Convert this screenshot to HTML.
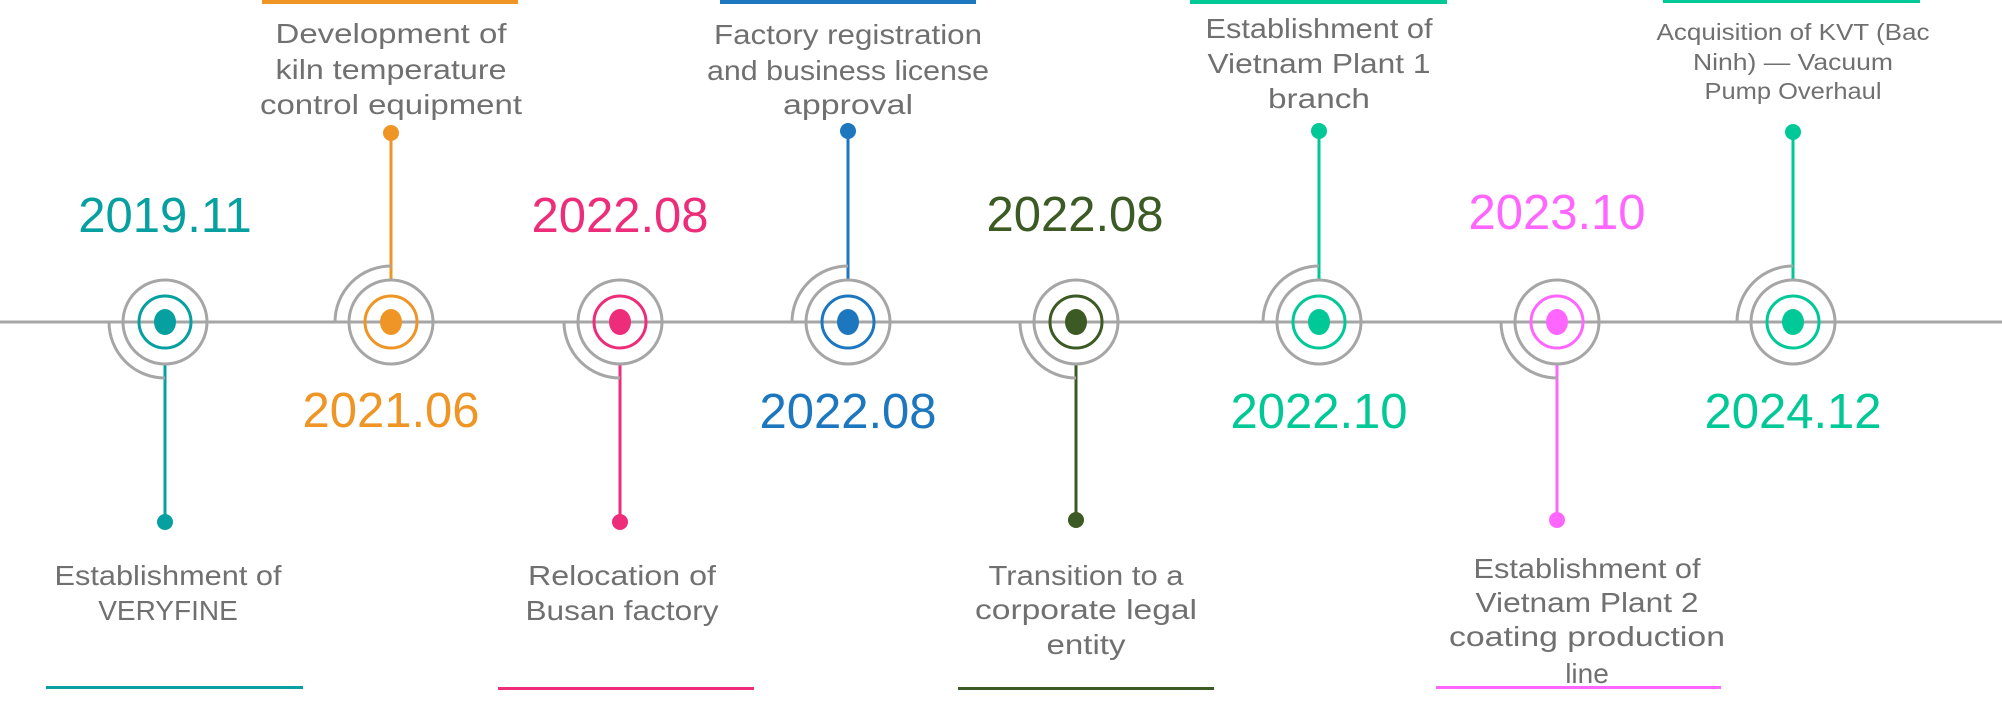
<!DOCTYPE html>
<html><head><meta charset="utf-8"><style>
html,body{margin:0;padding:0;background:#fff;}
svg{display:block;}
text{font-family:"Liberation Sans",sans-serif;}
.l{font-size:28px;fill:#707070;text-anchor:middle;}
.s{font-size:23px;fill:#707070;text-anchor:middle;}
.d{font-size:49px;text-anchor:middle;}
.g{fill:none;stroke:#a6a6a6;stroke-width:3;}
</style></head><body>
<svg width="2002" height="708" viewBox="0 0 2002 708" xmlns="http://www.w3.org/2000/svg">
<line x1="0" y1="322" x2="2002" y2="322" stroke="#a6a6a6" stroke-width="3"/>

<line x1="165" y1="364" x2="165" y2="522" stroke="#05a09f" stroke-width="3"/>
<circle cx="165" cy="522" r="8" fill="#05a09f"/>
<path class="g" d="M109 322 A56 56 0 0 0 165 378"/>
<circle class="g" cx="165" cy="322" r="42" fill="#fff"/>
<circle cx="165" cy="322" r="26" fill="none" stroke="#05a09f" stroke-width="3"/>
<ellipse cx="165" cy="322" rx="11" ry="13" fill="#05a09f"/>
<text class="d" x="165" y="232" fill="#05a09f">2019.11</text>
<text class="l" x="168" y="585" textLength="227" lengthAdjust="spacingAndGlyphs">Establishment of</text>
<text class="l" x="168" y="620">VERYFINE</text>
<rect x="46" y="686" width="257" height="3" fill="#05a09f"/>

<line x1="391" y1="133" x2="391" y2="280" stroke="#ef9526" stroke-width="3"/>
<circle cx="391" cy="133" r="8" fill="#ef9526"/>
<path class="g" d="M335 322 A56 56 0 0 1 391 266"/>
<circle class="g" cx="391" cy="322" r="42" fill="#fff"/>
<circle cx="391" cy="322" r="26" fill="none" stroke="#ef9526" stroke-width="3"/>
<ellipse cx="391" cy="322" rx="11" ry="13" fill="#ef9526"/>
<text class="d" x="391" y="427" fill="#ef9526">2021.06</text>
<text class="l" x="391" y="43" textLength="231" lengthAdjust="spacingAndGlyphs">Development of</text>
<text class="l" x="391" y="79" textLength="231" lengthAdjust="spacingAndGlyphs">kiln temperature</text>
<text class="l" x="391" y="114" textLength="262" lengthAdjust="spacingAndGlyphs">control equipment</text>
<rect x="262" y="0" width="256" height="4" fill="#ef9526"/>

<line x1="620" y1="364" x2="620" y2="522" stroke="#ee2d7a" stroke-width="3"/>
<circle cx="620" cy="522" r="8" fill="#ee2d7a"/>
<path class="g" d="M564 322 A56 56 0 0 0 620 378"/>
<circle class="g" cx="620" cy="322" r="42" fill="#fff"/>
<circle cx="620" cy="322" r="26" fill="none" stroke="#ee2d7a" stroke-width="3"/>
<ellipse cx="620" cy="322" rx="11" ry="13" fill="#ee2d7a"/>
<text class="d" x="620" y="232" fill="#ee2d7a">2022.08</text>
<text class="l" x="622" y="585" textLength="188" lengthAdjust="spacingAndGlyphs">Relocation of</text>
<text class="l" x="622" y="620" textLength="193" lengthAdjust="spacingAndGlyphs">Busan factory</text>
<rect x="498" y="687" width="256" height="3" fill="#ee2d7a"/>

<line x1="848" y1="131" x2="848" y2="280" stroke="#1c77bf" stroke-width="3"/>
<circle cx="848" cy="131" r="8" fill="#1c77bf"/>
<path class="g" d="M792 322 A56 56 0 0 1 848 266"/>
<circle class="g" cx="848" cy="322" r="42" fill="#fff"/>
<circle cx="848" cy="322" r="26" fill="none" stroke="#1c77bf" stroke-width="3"/>
<ellipse cx="848" cy="322" rx="11" ry="13" fill="#1c77bf"/>
<text class="d" x="848" y="428" fill="#1c77bf">2022.08</text>
<text class="l" x="848" y="44" textLength="268" lengthAdjust="spacingAndGlyphs">Factory registration</text>
<text class="l" x="848" y="80" textLength="282" lengthAdjust="spacingAndGlyphs">and business license</text>
<text class="l" x="848" y="114" textLength="130" lengthAdjust="spacingAndGlyphs">approval</text>
<rect x="720" y="0" width="256" height="4" fill="#1c77bf"/>

<line x1="1076" y1="364" x2="1076" y2="520" stroke="#3b5a24" stroke-width="3"/>
<circle cx="1076" cy="520" r="8" fill="#3b5a24"/>
<path class="g" d="M1020 322 A56 56 0 0 0 1076 378"/>
<circle class="g" cx="1076" cy="322" r="42" fill="#fff"/>
<circle cx="1076" cy="322" r="26" fill="none" stroke="#3b5a24" stroke-width="3"/>
<ellipse cx="1076" cy="322" rx="11" ry="13" fill="#3b5a24"/>
<text class="d" x="1075" y="231" fill="#3b5a24">2022.08</text>
<text class="l" x="1086" y="585" textLength="195" lengthAdjust="spacingAndGlyphs">Transition to a</text>
<text class="l" x="1086" y="619" textLength="222" lengthAdjust="spacingAndGlyphs">corporate legal</text>
<text class="l" x="1086" y="654" textLength="79" lengthAdjust="spacingAndGlyphs">entity</text>
<rect x="958" y="687" width="256" height="3" fill="#3b5a24"/>

<line x1="1319" y1="131" x2="1319" y2="280" stroke="#00c896" stroke-width="3"/>
<circle cx="1319" cy="131" r="8" fill="#00c896"/>
<path class="g" d="M1263 322 A56 56 0 0 1 1319 266"/>
<circle class="g" cx="1319" cy="322" r="42" fill="#fff"/>
<circle cx="1319" cy="322" r="26" fill="none" stroke="#00c896" stroke-width="3"/>
<ellipse cx="1319" cy="322" rx="11" ry="13" fill="#00c896"/>
<text class="d" x="1319" y="428" fill="#00c896">2022.10</text>
<text class="l" x="1319" y="38" textLength="227" lengthAdjust="spacingAndGlyphs">Establishment of</text>
<text class="l" x="1319" y="73" textLength="223" lengthAdjust="spacingAndGlyphs">Vietnam Plant 1</text>
<text class="l" x="1319" y="108" textLength="102" lengthAdjust="spacingAndGlyphs">branch</text>
<rect x="1190" y="0" width="257" height="4" fill="#00c896"/>

<line x1="1557" y1="364" x2="1557" y2="520" stroke="#ff66ff" stroke-width="3"/>
<circle cx="1557" cy="520" r="8" fill="#ff66ff"/>
<path class="g" d="M1501 322 A56 56 0 0 0 1557 378"/>
<circle class="g" cx="1557" cy="322" r="42" fill="#fff"/>
<circle cx="1557" cy="322" r="26" fill="none" stroke="#ff66ff" stroke-width="3"/>
<ellipse cx="1557" cy="322" rx="11" ry="13" fill="#ff66ff"/>
<text class="d" x="1557" y="229" fill="#ff66ff">2023.10</text>
<text class="l" x="1587" y="578" textLength="227" lengthAdjust="spacingAndGlyphs">Establishment of</text>
<text class="l" x="1587" y="612" textLength="223" lengthAdjust="spacingAndGlyphs">Vietnam Plant 2</text>
<text class="l" x="1587" y="646" textLength="276" lengthAdjust="spacingAndGlyphs">coating production</text>
<text class="l" x="1587" y="683">line</text>
<rect x="1436" y="686" width="285" height="3" fill="#ff66ff"/>

<line x1="1793" y1="132" x2="1793" y2="280" stroke="#00c896" stroke-width="3"/>
<circle cx="1793" cy="132" r="8" fill="#00c896"/>
<path class="g" d="M1737 322 A56 56 0 0 1 1793 266"/>
<circle class="g" cx="1793" cy="322" r="42" fill="#fff"/>
<circle cx="1793" cy="322" r="26" fill="none" stroke="#00c896" stroke-width="3"/>
<ellipse cx="1793" cy="322" rx="11" ry="13" fill="#00c896"/>
<text class="d" x="1793" y="428" fill="#00c896">2024.12</text>
<text class="s" x="1793" y="40" textLength="273" lengthAdjust="spacingAndGlyphs">Acquisition of KVT (Bac</text>
<text class="s" x="1793" y="70" textLength="200" lengthAdjust="spacingAndGlyphs">Ninh) — Vacuum</text>
<text class="s" x="1793" y="99" textLength="177" lengthAdjust="spacingAndGlyphs">Pump Overhaul</text>
<rect x="1663" y="0" width="257" height="3" fill="#00c896"/>
</svg>
</body></html>
